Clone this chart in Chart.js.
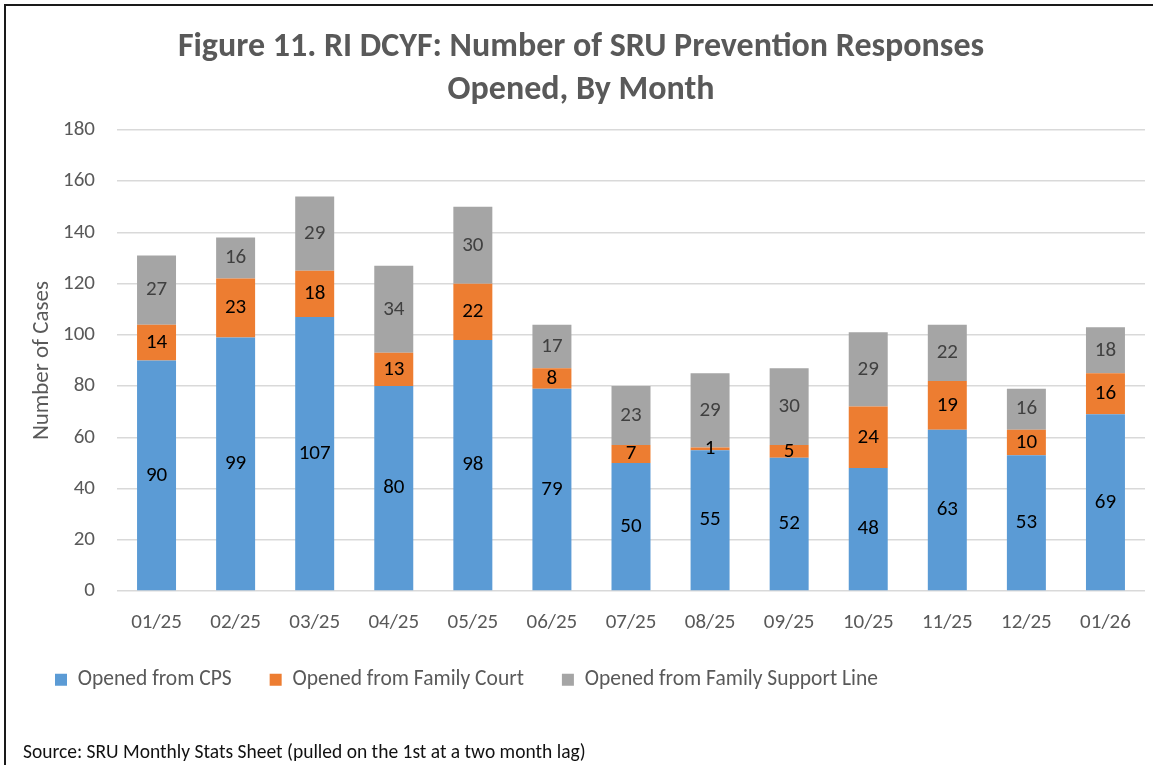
<!DOCTYPE html>
<html>
<head>
<meta charset="utf-8">
<script src="https://cdn.jsdelivr.net/npm/chart.js@4.4.1/dist/chart.umd.min.js"></script>
<style>
  html, body { margin: 0; padding: 0; background: #fff; }
  #wrap { position: relative; width: 1153px; height: 765px; overflow: hidden; }
  #frame { position: absolute; left: 4px; top: 4px; width: 1200px; height: 800px;
           border-left: 2px solid #1a1a1a; border-top: 2px solid #1a1a1a; }
  #source { position: absolute; left: 23px; top: 739px; font-family: Carlito, Calibri, Lato, sans-serif;
            font-size: 19.5px; color: #111; white-space: nowrap; }
  canvas { position: absolute; left: 0; top: 0; }
</style>
</head>
<body>
<div id="wrap">
  <div id="frame"></div>
  <canvas id="grafica" width="1153" height="765"></canvas>
  <div id="source">Source: SRU Monthly Stats Sheet (pulled on the 1st at a two month lag)</div>
</div>
<script>
const FONT = 'Carlito, Calibri, Lato, sans-serif';

const meses = ['01/25', '02/25', '03/25', '04/25', '05/25', '06/25', '07/25',
               '08/25', '09/25', '10/25', '11/25', '12/25', '01/26'];
const desdeCPS = [90, 99, 107, 80, 98, 79, 50, 55, 52, 48, 63, 53, 69];
const desdeCorte = [14, 23, 18, 13, 22, 8, 7, 1, 5, 24, 19, 10, 16];
const desdeLinea = [27, 16, 29, 34, 30, 17, 23, 29, 30, 29, 22, 16, 18];
const ticksY = [0, 20, 40, 60, 80, 100, 120, 140, 160, 180];

// etiquetas dentro de cada segmento
const etiquetas = {
    id: 'etiquetas',
    afterDatasetsDraw(chart) {
        const ctx = chart.ctx;
        ctx.save();
        ctx.font = '21px ' + FONT;
        ctx.textAlign = 'center';
        ctx.textBaseline = 'middle';
        chart.data.datasets.forEach((ds, i) => {
            const meta = chart.getDatasetMeta(i);
            ctx.fillStyle = ds.labelColor;
            meta.data.forEach((bar, j) => {
                const y = (bar.y + bar.base) / 2;
                ctx.fillText(String(ds.data[j]), bar.x, y);
            });
        });
        ctx.restore();
    }
};

new Chart(document.getElementById('grafica'), {
    type: 'bar',
    data: {
        labels: meses,
        datasets: [
            { label: 'Opened from CPS', data: desdeCPS, backgroundColor: '#5B9BD5', labelColor: '#000' },
            { label: 'Opened from Family Court', data: desdeCorte, backgroundColor: '#ED7D31', labelColor: '#000' },
            { label: 'Opened from Family Support Line', data: desdeLinea, backgroundColor: '#A5A5A5', labelColor: '#404040' }
        ]
    },
    options: {
        responsive: false,
        animation: false,
        categoryPercentage: 1,
        barPercentage: 0.493,
        layout: { padding: { left: 17, right: 8, top: 25.5, bottom: 64.5 } },
        plugins: {
            title: {
                display: true,
                text: ['Figure 11. RI DCYF: Number of SRU Prevention Responses', 'Opened, By Month'],
                color: '#595959',
                font: { family: FONT, size: 34, weight: 'bold', lineHeight: '43px' },
                padding: { top: 0, bottom: 18.5 }
            },
            legend: {
                position: 'bottom',
                align: 'start',
                labels: {
                    color: '#595959',
                    boxWidth: 12,
                    boxHeight: 12,
                    padding: 38,
                    font: { family: FONT, size: 21.5 }
                }
            },
            tooltip: { enabled: false }
        },
        scales: {
            x: {
                stacked: true,
                grid: { display: false, drawTicks: false },
                border: { display: false },
                ticks: { color: '#595959', padding: 19, font: { family: FONT, size: 21 } },
                afterFit(scale) { scale.height = 40; }
            },
            y: {
                stacked: true,
                min: 0,
                max: 180,
                afterBuildTicks(scale) { scale.ticks = ticksY.map(v => ({ value: v })); },
                grid: { color: '#D9D9D9', lineWidth: 1.5, drawTicks: false },
                border: { display: false },
                ticks: { color: '#595959', padding: 22, font: { family: FONT, size: 21 } },
                title: {
                    display: true,
                    text: 'Number of Cases',
                    color: '#595959',
                    font: { family: FONT, size: 23 },
                    padding: { top: 11, bottom: 0 }
                },
                afterFit(scale) { scale.width = 100; }
            }
        }
    },
    plugins: [etiquetas]
});
</script>
</body>
</html>
